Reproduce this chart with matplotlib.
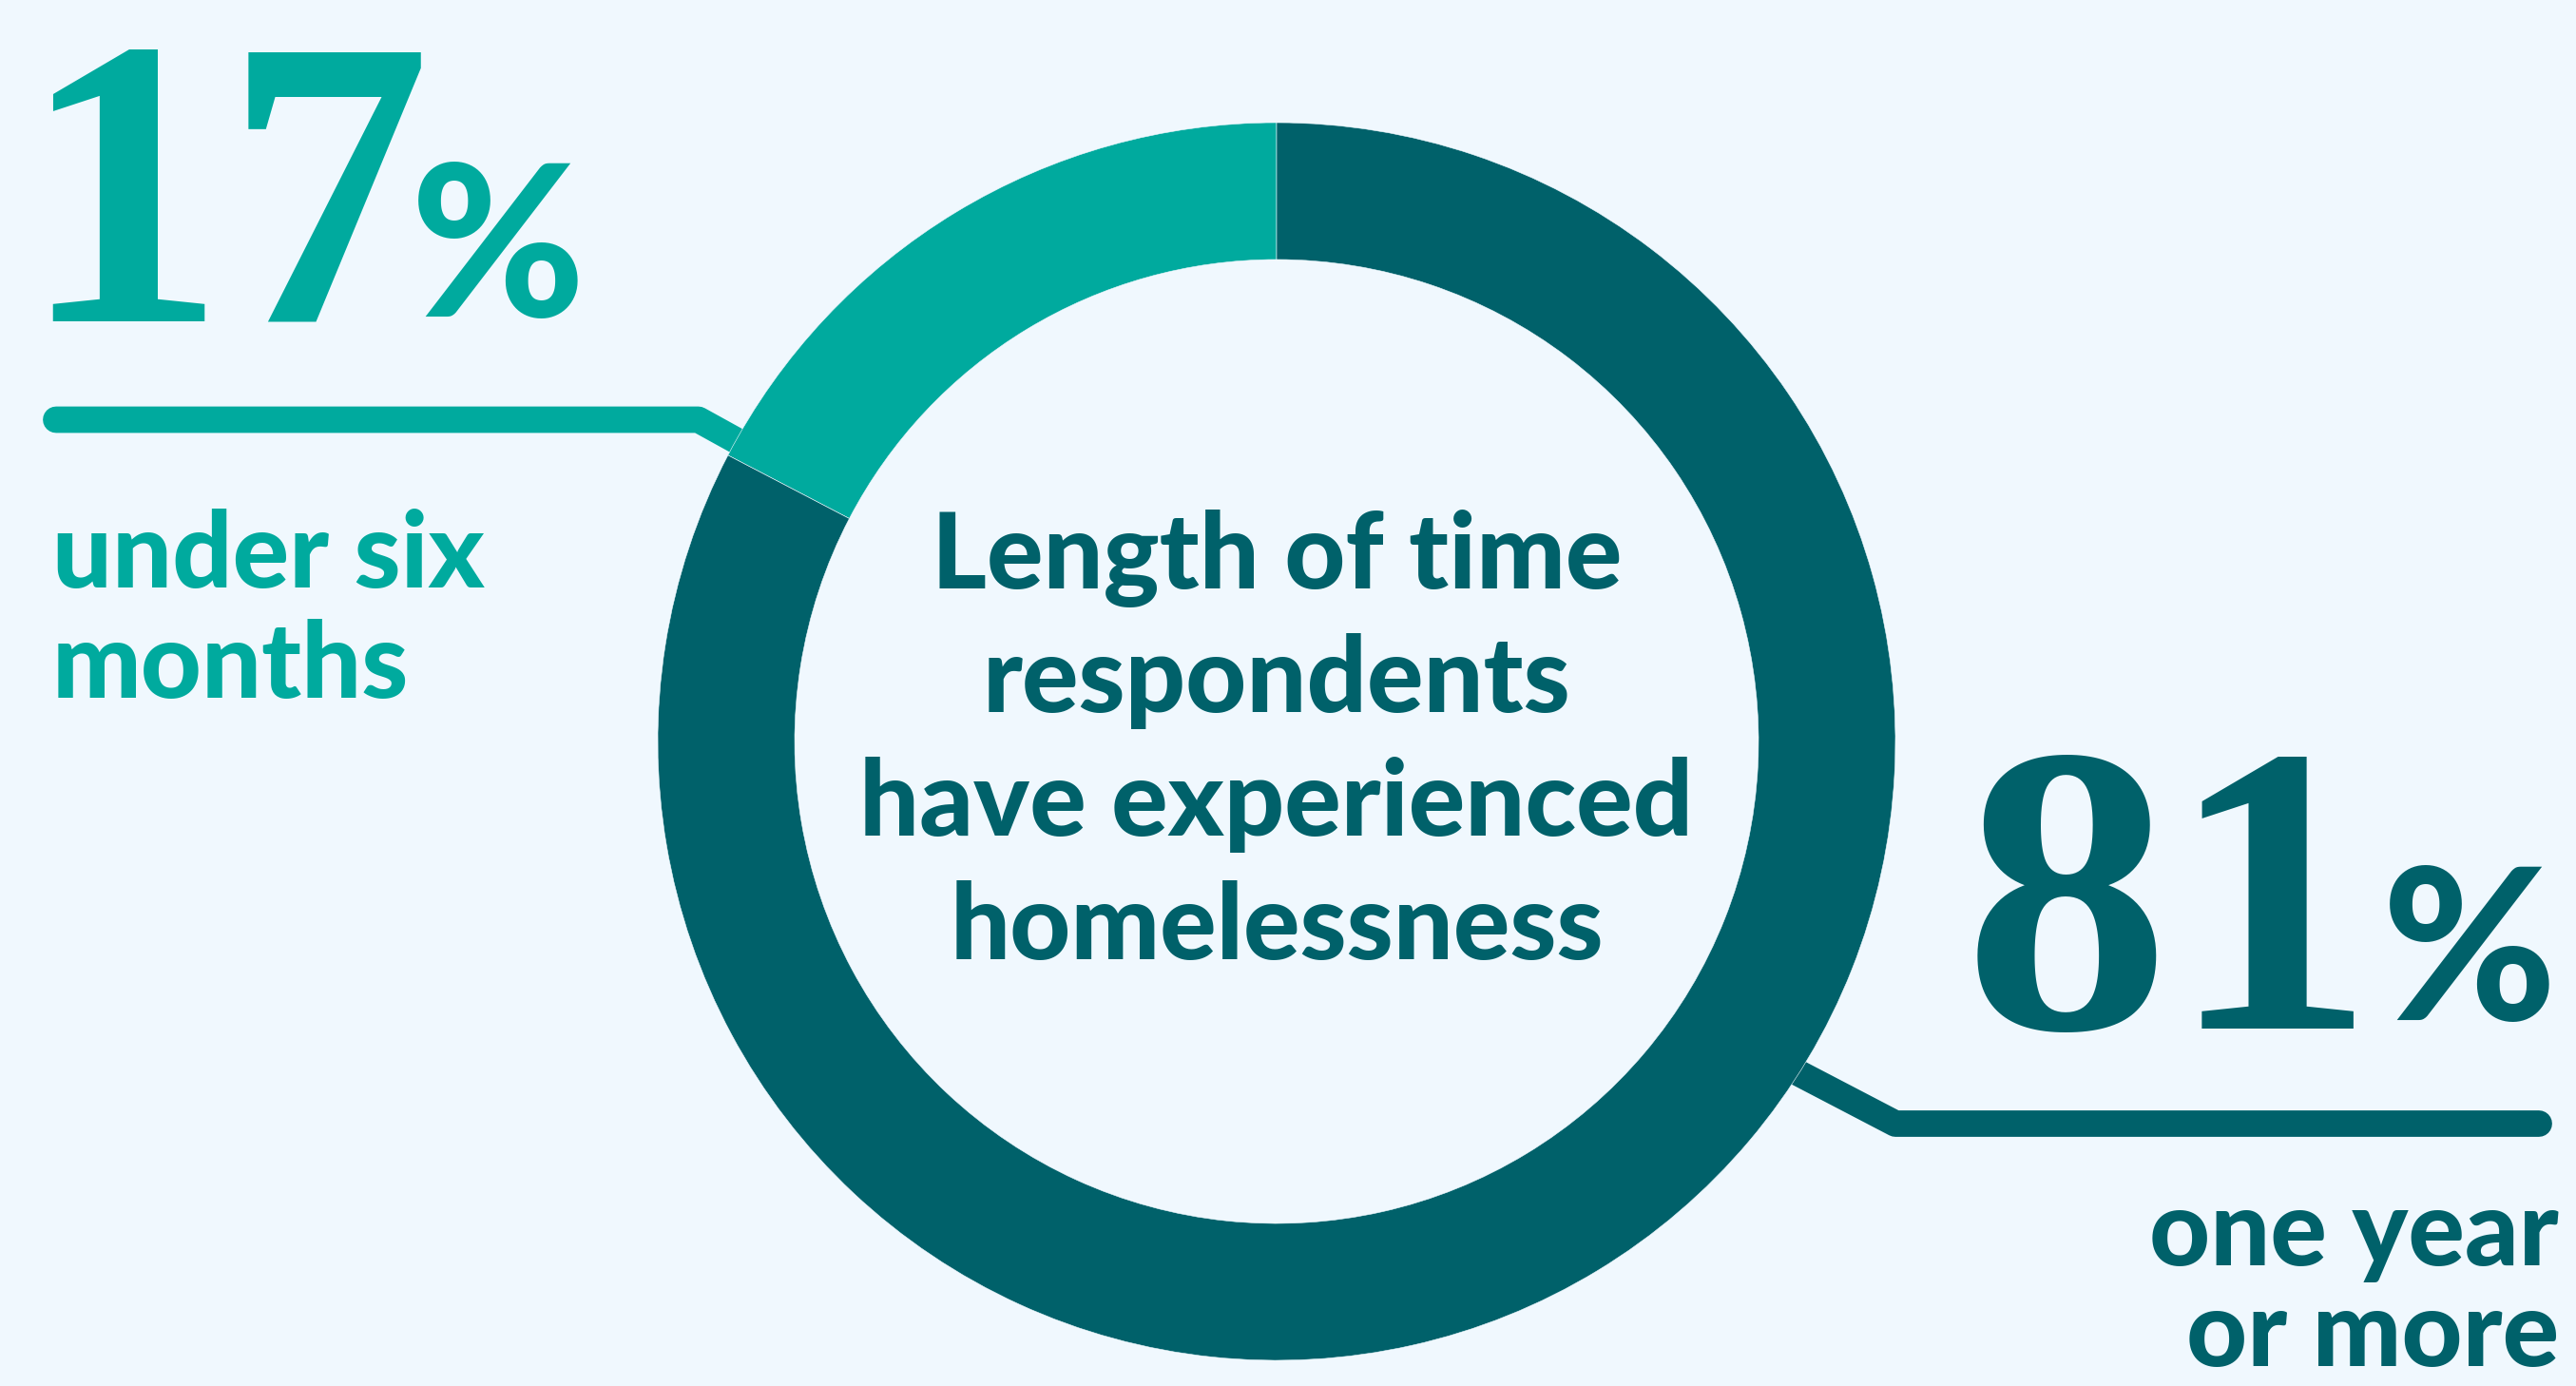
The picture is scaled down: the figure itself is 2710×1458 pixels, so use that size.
import numpy as np
import matplotlib
matplotlib.use("Agg")
import matplotlib.pyplot as plt

# ---- data ----
categories = ["under six months", "one year or more"]
label_lines = [["under six", "months"], ["one year", "or more"]]
values = [17, 81]
title_lines = ["Length of time", "respondents", "have experienced", "homelessness"]

# ---- style ----
W, H, DPI = 2710, 1458, 100
BG = "#F0F8FE"
TEAL = "#00AA9E"
DARK = "#00616A"
SANS = ["Lato", "DejaVu Sans"]
SERIF = ["Liberation Serif", "DejaVu Serif"]

fig = plt.figure(figsize=(W / DPI, H / DPI), dpi=DPI, facecolor=BG)
ax = fig.add_axes([0, 0, 1, 1])
ax.set_facecolor(BG)


def Y(y):
    return H - y


cx, cy = 1343, Y(780)
R_OUT, RING_W = 651, 144

wedges, _ = ax.pie(values, colors=[TEAL, DARK], startangle=90, counterclock=True,
                   radius=R_OUT, center=(cx, cy),
                   wedgeprops=dict(width=RING_W, edgecolor=BG, linewidth=0.4))
ax.set_xlim(0, W)
ax.set_ylim(0, H)
ax.set_aspect("equal")
ax.axis("off")

# ---- leader lines ----
theta = np.deg2rad(wedges[0].theta2)
u = np.array([np.cos(theta), np.sin(theta)])
n = np.array([np.sin(theta), -np.cos(theta)])
LW = 20
off = 16
y_h = Y(441.5)
r_c = (y_h - cy - off * n[1]) / u[1]
corner = np.array([cx, cy]) + r_c * u + off * n
inner = np.array([cx, cy]) + (R_OUT - RING_W / 2) * u + off * n
ax.plot([inner[0], corner[0] + 6, 59], [inner[1], y_h, y_h], color=TEAL, lw=LW,
        solid_capstyle="round", solid_joinstyle="round", zorder=0.5)

corner2 = np.array([1994, Y(1182)])
end2 = corner2 + 160 * u
ax.plot([end2[0], corner2[0], 2671], [end2[1], corner2[1], Y(1182)], color=DARK, lw=LW,
        solid_capstyle="round", solid_joinstyle="round", zorder=0.5)

# ---- big numbers ----
NUM_SIZE = 312
PCT_SIZE = 160
ax.text(20, Y(337), f"{values[0]}", color=TEAL, fontsize=NUM_SIZE, family=SERIF,
        weight="bold", ha="left", va="baseline")
ax.text(432, Y(333), "%", color=TEAL, fontsize=PCT_SIZE, family=SANS,
        weight="black", ha="left", va="baseline")
ax.text(2066, Y(1082), f"{values[1]}", color=DARK, fontsize=NUM_SIZE, family=SERIF,
        weight="bold", ha="left", va="baseline")
ax.text(2506, Y(1073), "%", color=DARK, fontsize=PCT_SIZE, family=SANS,
        weight="black", ha="left", va="baseline")

# ---- labels ----
TXT = 80
for i, line in enumerate(label_lines[0]):
    ax.text(55, Y(618 + 116 * i), line, color=TEAL, fontsize=TXT, family=SANS,
            weight="black", ha="left", va="baseline")
for i, line in enumerate(label_lines[1]):
    ax.text(2692, Y(1331 + 106 * i), line, color=DARK, fontsize=TXT, family=SANS,
            weight="black", ha="right", va="baseline")

# ---- centre title ----
for i, line in enumerate(title_lines):
    ax.text(cx, Y(619 + 130 * i), line, color=DARK, fontsize=TXT, family=SANS,
            weight="black", ha="center", va="baseline")

fig.savefig("out.png", dpi=DPI, facecolor=BG)
